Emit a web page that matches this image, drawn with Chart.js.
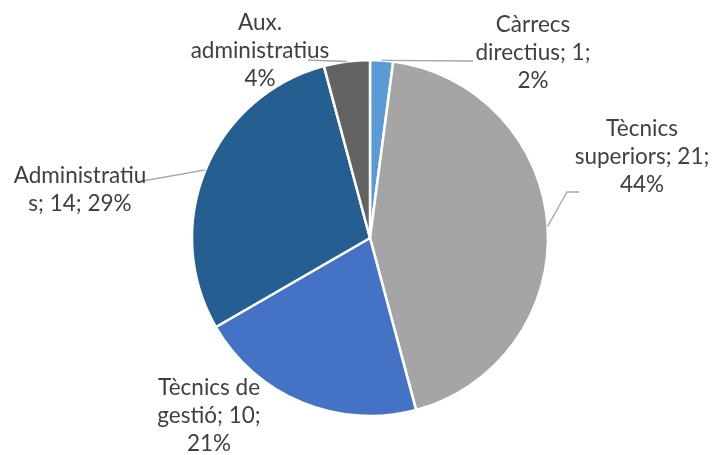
<!DOCTYPE html>
<html lang="ca">
<head>
<meta charset="UTF-8">
<title>Personal per categoria</title>
<style>
    body { margin: 0; background: #ffffff; }
    #wrap { width: 712px; height: 455px; }
</style>
</head>
<body>
<div id="wrap"><canvas id="pie" width="712" height="455"></canvas></div>
<script src="https://cdn.jsdelivr.net/npm/chart.js"></script>
<script>
    // Categories and head counts
    const categories = ["Càrrecs directius", "Tècnics superiors", "Tècnics de gestió", "Administratius", "Aux. administratius"];
    const counts = [1, 21, 10, 14, 2];
    const colors = ["#5B9BD5", "#A5A5A5", "#4472C4", "#255E91", "#636363"];

    const total = counts.reduce((a, b) => a + b, 0);
    const pct = counts.map(v => Math.round(v / total * 100));

    // Label text, wrapped the way it is shown
    const labelLines = [
        ["Càrrecs", "directius; " + counts[0] + ";", pct[0] + "%"],
        ["Tècnics", "superiors; " + counts[1] + ";", pct[1] + "%"],
        ["Tècnics de", "gestió; " + counts[2] + ";", pct[2] + "%"],
        ["Administratiu", "s; " + counts[3] + "; " + pct[3] + "%"],
        ["Aux.", "administratius", pct[4] + "%"]
    ];

    // Where each label sits (centre of first line) and where its leader line ends
    const labelLayout = [
        { x: 533, y: 25, lead: [[473, 61]] },
        { x: 642, y: 129, lead: [[567, 192], [579, 192]] },
        { x: 209, y: 388, lead: null },
        { x: 80, y: 176, lead: [[137, 182]] },
        { x: 260, y: 23, lead: [[308, 60]] }
    ];

    const dataLabels = {
        id: "dataLabels",
        afterDatasetsDraw(chart) {
            const ctx = chart.ctx;
            const arcs = chart.getDatasetMeta(0).data;
            ctx.save();
            ctx.strokeStyle = "#A6A6A6";
            ctx.lineWidth = 1.3;
            arcs.forEach((arc, i) => {
                const lay = labelLayout[i];
                if (!lay.lead) return;
                const mid = (arc.startAngle + arc.endAngle) / 2;
                ctx.beginPath();
                ctx.moveTo(arc.x + Math.cos(mid) * arc.outerRadius, arc.y + Math.sin(mid) * arc.outerRadius);
                lay.lead.forEach(p => ctx.lineTo(p[0], p[1]));
                ctx.stroke();
            });
            ctx.fillStyle = "#404040";
            ctx.font = "22.5px Lato, 'Open Sans', sans-serif";
            ctx.textAlign = "center";
            ctx.textBaseline = "middle";
            labelLines.forEach((lines, i) => {
                const lay = labelLayout[i];
                lines.forEach((t, k) => ctx.fillText(t, lay.x, lay.y + k * 28));
            });
            ctx.restore();
        }
    };

    new Chart(document.getElementById("pie"), {
        type: "pie",
        data: {
            labels: categories,
            datasets: [{
                data: counts,
                backgroundColor: colors,
                borderColor: "#ffffff",
                borderWidth: 2.5
            }]
        },
        options: {
            responsive: false,
            animation: false,
            radius: 178,
            layout: { padding: { left: 28, right: 0, top: 21, bottom: 0 } },
            plugins: {
                legend: { display: false },
                tooltip: { enabled: false }
            }
        },
        plugins: [dataLabels]
    });
</script>
</body>
</html>
